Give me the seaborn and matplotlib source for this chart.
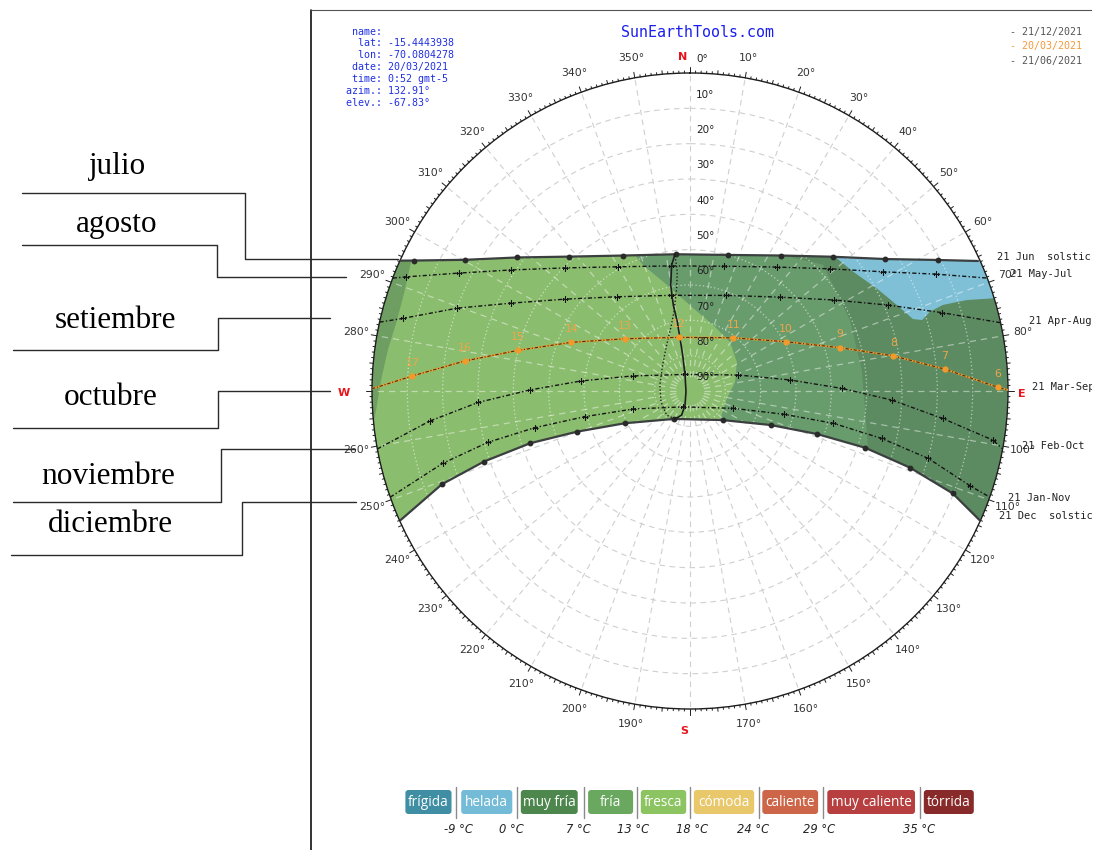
import numpy as np
import pandas as pd
import matplotlib
matplotlib.use("Agg")
import matplotlib.pyplot as plt
from matplotlib.patches import Polygon, Circle, FancyBboxPatch
import seaborn as sns

# ---------------------------------------------------------------------------
# Sun paths, lat -15.4443938 / lon -70.0804278
# azimuth in degrees clockwise from north, elevation in degrees
# ---------------------------------------------------------------------------
jun_az = [294.2, 295.3, 300.3, 307.7, 318.1, 333.6, 354.2, 15.7, 33.9, 46.9, 55.95, 62.2, 65.7]
jun_el = [0.0, 3.6, 16.4, 28.2, 38.9, 47.2, 51.1, 50.0, 43.8, 34.4, 23.3, 10.5, 0.6]

may_az = [290.8, 291.9, 297.0, 304.1, 314.5, 330.0, 351.4, 15.2, 34.96, 48.9, 58.24, 64.6, 69.2]
may_el = [0.0, 3.4, 16.5, 28.9, 40.3, 49.4, 54.2, 53.4, 47.2, 37.4, 25.9, 12.9, 0.0]

apr_az = [282.5, 284.2, 289.6, 296.1, 306.2, 322.1, 348.8, 20.6, 43.8, 57.7, 66.6, 72.7, 77.6]
apr_el = [0.0, 6.2, 20.1, 33.5, 46.0, 56.2, 62.4, 61.1, 53.2, 41.8, 28.8, 15.4, 0.0]

mar_az = [270.4, 273.1, 277.6, 283.3, 292.3, 308.8, 348.4, 39.1, 62.8, 73.9, 80.2, 85.1, 89.3, 89.8]
mar_el = [0.0, 11.3, 25.7, 40.0, 53.7, 66.4, 74.5, 70.6, 59.5, 45.8, 31.6, 17.6, 2.9, 0.0]
mar_hours = [17, 16, 15, 14, 13, 12, 11, 10, 9, 8, 7, 6]

feb_az = [259.5, 263.4, 266.9, 270.4, 275.3, 284.7, 343.1, 71.7, 83.7, 89.0, 92.55, 96.2, 99.2, 100.5]
feb_el = [0.0, 15.8, 29.9, 44.8, 59.1, 73.2, 85.1, 75.6, 61.5, 47.1, 32.9, 18.1, 3.2, 0.0]

jan_az = [250.5, 253.7, 255.75, 256.7, 256.3, 252.4, 203.6, 111.8, 103.9, 102.7, 103.9, 105.8, 108.7, 109.5]
jan_el = [0.0, 17.1, 31.0, 44.8, 59.3, 73.2, 85.1, 76.8, 62.6, 48.4, 34.1, 19.9, 6.3, 0.0]

dec_az = [245.9, 249.4, 251.1, 251.9, 250.2, 243.6, 209.7, 131.6, 112.85, 108.7, 107.95, 109.2, 111.3, 114.1]
dec_el = [0.0, 15.0, 28.4, 42.4, 56.0, 69.5, 80.9, 77.6, 65.2, 52.0, 37.9, 24.1, 10.2, 0.0]

# 12 h analemma (solid and dotted halves)
ana_solid_az = [353.7, 351.7, 349.7, 349.0, 349.6, 349.3, 348.5, 342.6, 260.1, 199.7, 199.1, 208.2]
ana_solid_el = [51.1, 54.0, 59.5, 65.2, 70.1, 74.8, 79.6, 85.3, 88.85, 85.8, 82.8, 81.0]
ana_dot_az = [208.2, 224.2, 249.75, 281.3, 313.6, 333.1, 342.9, 348.6, 352.6, 353.9, 353.7]
ana_dot_el = [81.0, 80.5, 81.25, 81.3, 79.3, 75.4, 71.4, 67.1, 60.7, 56.0, 51.1]

# Temperature zones laid over the yearly sun band (boundaries in az / el)
fria_az = [26.4, 33.5, 46.5, 66.1, 83.0, 108.05, 116.3, 180, 220, 270, 320]
fria_el = [39.1, 43.8, 38.1, 40.5, 41.0, 37.0, 33.2, 50, -10, -10, -10]
fresca_az = [336.5, 337.6, 339.5, 347.8, 2.1, 19.2, 39.2, 58.3, 78.7, 100.7, 134.0, 153.0, 180, 220, 270, 320]
fresca_el = [40.3, 47.7, 51.9, 59.3, 66.5, 70.2, 72.1, 74.4, 77.0, 79.3, 78.2, 74.4, 60, -10, -10, -10]
helada_az = [42.8, 47.9, 53.8, 61.2, 67.4, 72.1, 73.0, 71.7, 71.2, 71.8, 73.0, 75, 55]
helada_el = [31.7, 34.0, 32.8, 29.7, 26.6, 23.7, 21.3, 18.45, 14.4, 7.6, 0.3, -10, -10]
dusk_az = [298.0, 294.8, 289.5, 283.6, 277.7, 272.0, 266.5, 263.9, 263, 300]
dusk_el = [1.9, 3.0, 4.4, 4.7, 3.7, 2.5, 1.0, -0.2, -10, -10]

path_labels = ["21 Jun  solstic", "21 May-Jul", "21 Apr-Aug", "21 Mar-Sep",
               "21 Feb-Oct", "21 Jan-Nov", "21 Dec  solstic"]
info_lines = [" name:", "  lat: -15.4443938", "  lon: -70.0804278", " date: 20/03/2021",
              " time: 0:52 gmt-5", "azim.: 132.91°", "elev.: -67.83°"]
date_keys = ["- 21/12/2021", "- 20/03/2021", "- 21/06/2021"]
months = ["julio", "agosto", "setiembre", "octubre", "noviembre", "diciembre"]

zone_names = ["frígida", "helada", "muy fría", "fría", "fresca", "cómoda",
              "caliente", "muy caliente", "tórrida"]
zone_colors = ["#3f8ea4", "#74bbd7", "#4e874d", "#6aa75f", "#8cc462", "#e9c86c",
               "#cd6648", "#b73f3f", "#872a29"]
zone_limits = ["-9 °C", "0 °C", "7 °C", "13 °C", "18 °C", "24 °C", "29 °C", "35 °C"]

# ---------------------------------------------------------------------------
sns.set_style("white")
plt.rcParams["font.family"] = ["DejaVu Sans"]

W, H = 1110, 850
fig = plt.figure(figsize=(W / 100, H / 100), dpi=100)
fig.patch.set_facecolor("white")

CX, CY, R = 690, 391, 318
ax = fig.add_axes([(CX - R) / W, (H - CY - R) / H, 2 * R / W, 2 * R / H], projection="polar")
ax.set_theta_zero_location("N")
ax.set_theta_direction(-1)
ax.set_autoscale_on(False)
ax.set_xlim(0, 2 * np.pi)
ax.set_ylim(0, 90)
ax.set_thetagrids(np.arange(0, 360, 10))
ax.set_rgrids(np.arange(10, 90, 10))
ax.set_xticklabels([])
ax.set_yticklabels([])
ax.grid(True, color="#cfcfcf", linestyle=(0, (5, 4)), linewidth=0.8)
ax.set_axisbelow(True)
ax.spines["polar"].set_color("#1e1e1e")
ax.spines["polar"].set_linewidth(1.0)
ax.tick_params(length=0)


def th(az):
    return np.radians(np.asarray(az, dtype=float))


def zr(el):
    return 90.0 - np.asarray(el, dtype=float)


# yearly band between June and December paths, closed along the horizon
right_arc = np.linspace(jun_az[-1], dec_az[-1], 13)
left_arc = np.linspace(dec_az[0], jun_az[0], 13)
band_t = np.concatenate([th(jun_az), th(right_arc), th(dec_az[::-1]), th(left_arc)])
band_r = np.concatenate([zr(jun_el), np.full(13, 90.0), zr(dec_el[::-1]), np.full(13, 90.0)])
band = Polygon(np.column_stack([band_t, band_r]), closed=True, fc="#5d8b61", ec="none", zorder=1)
ax.add_patch(band)

zones = [(fria_az, fria_el, "#699c6d", 1.0),
         (fresca_az, fresca_el, "#8bbd6e", 1.0),
         (helada_az, helada_el, "#7fc0d7", 1.0),
         (dusk_az, dusk_el, "#6a9960", 0.85)]
for az, el, col, al in zones:
    p = Polygon(np.column_stack([th(az), zr(el)]), closed=True, fc=col, ec="none",
                alpha=al, zorder=1.1)
    ax.add_patch(p)
    p.set_clip_path(band)

# light grid drawn again over the coloured band
for a in range(0, 360, 10):
    ln, = ax.plot([np.radians(a)] * 2, [4, 90], color="white", lw=0.9,
                  ls=(0, (5, 4)), alpha=0.45, zorder=1.5)
    ln.set_clip_path(band)
for rr_ in range(10, 90, 10):
    c = Circle((0.5, 0.5), rr_ / 180, transform=ax.transAxes, fill=False, ec="white",
               lw=0.9, ls=(0, (1, 2)), alpha=0.55, zorder=1.5)
    ax.add_patch(c)
    c.set_clip_path(band)

# intermediate monthly paths
dashdot = (0, (3, 1.6, 1, 1.6))
for az, el in [(may_az, may_el), (apr_az, apr_el), (feb_az, feb_el), (jan_az, jan_el)]:
    df = pd.DataFrame({"theta": th(az), "r": zr(el)})
    sns.lineplot(data=df, x="theta", y="r", ax=ax, sort=False, estimator=None,
                 color="#151515", lw=1.0, zorder=3)
    ax.lines[-1].set_linestyle(dashdot)
    ax.plot(th(az)[1:-1], zr(el)[1:-1], ls="none", marker="+", ms=4, mew=0.8,
            color="#151515", zorder=3)

# solstice paths (band edges)
for az, el in [(jun_az, jun_el), (dec_az, dec_el)]:
    df = pd.DataFrame({"theta": th(az), "r": zr(el)})
    sns.lineplot(data=df, x="theta", y="r", ax=ax, sort=False, estimator=None,
                 color="#3b3f3f", lw=1.6, zorder=3)
    ax.plot(th(az)[1:-1], zr(el)[1:-1], ls="none", marker="o", ms=3.2,
            color="#2a2a2a", zorder=3)

# equinox path of the selected date
df = pd.DataFrame({"theta": th(mar_az), "r": zr(mar_el)})
sns.lineplot(data=df, x="theta", y="r", ax=ax, sort=False, estimator=None,
             color="#f29a2c", lw=1.3, zorder=4)
ax.plot(th(mar_az), zr(mar_el), color="#151515", lw=0.8, ls=dashdot, alpha=0.8, zorder=4.1)
ax.plot(th(mar_az)[1:-1], zr(mar_el)[1:-1], ls="none", marker="o", ms=3.5,
        color="#f29a2c", zorder=4.2)
for h, a, e in zip(mar_hours, mar_az[1:-1], mar_el[1:-1]):
    ax.annotate(str(h), xy=(np.radians(a), 90 - e), xytext=(0, 9.5),
                textcoords="offset points", ha="center", va="center",
                color="#f0a548", fontsize=7.8, zorder=4.3)

# analemma
ax.plot(th(ana_solid_az), zr(ana_solid_el), color="#1e1e1e", lw=1.2, zorder=3.5)
ax.plot(th(ana_dot_az), zr(ana_dot_el), color="#1e1e1e", lw=1.0, ls=(0, (1, 1.5)), zorder=3.5)

# compass rim ticks
for a in range(360):
    L = 1.6 if a % 10 == 0 else (1.0 if a % 5 == 0 else 0.6)
    ax.plot([np.radians(a)] * 2, [90, 90 + L], color="#1e1e1e", lw=0.7,
            clip_on=False, zorder=5)

# azimuth labels
for a in range(10, 360, 10):
    if a in (90, 180, 270):
        continue
    ax.text(np.radians(a), 95.8, f"{a}°", ha="center", va="center",
            fontsize=7.8, color="#333333", clip_on=False)
for lab, a, r in [("N", 358.8, 94.6), ("E", 90.5, 94.0), ("S", 181.0, 96.2), ("W", 269.7, 97.9)]:
    ax.text(np.radians(a), r, lab, ha="center", va="center", fontsize=8,
            fontweight="bold", color="#e8141c", clip_on=False)

# elevation ring labels
for e in range(0, 100, 10):
    ax.annotate(f"{e}°", xy=(0, 90 - e), xytext=(4.5, 9.8), textcoords="offset points",
                ha="left", va="center", fontsize=7.5, color="#222222", zorder=6)

ax.set_xlabel("")
ax.set_ylabel("")
ax.set_xlim(0, 2 * np.pi)
ax.set_ylim(0, 90)

# ---------------------------------------------------------------------------
# overlay in pixel units for surrounding annotations
ov = fig.add_axes([0, 0, 1092 / W, 1])
ov.set_xlim(0, 1092)
ov.set_ylim(H, 0)
ov.axis("off")
ov.patch.set_visible(False)

# frame of the diagram
ov.plot([311, 311], [10, 850], color="#111111", lw=1.2)
ov.plot([311, 1092], [10, 10], color="#555555", lw=0.8)

mono = "DejaVu Sans Mono"
ov.text(697, 32, "SunEarthTools.com", ha="center", va="center", family=mono,
        fontsize=10.8, color="#1a1ef0")
for i, s in enumerate(info_lines):
    ov.text(346, 31.5 + 11.9 * i, s, ha="left", va="center", family=mono,
            fontsize=7.2, color="#2030e0")
for i, (s, col) in enumerate(zip(date_keys, ["#555555", "#f39a3a", "#555555"])):
    ov.text(1010, 31.5 + 14.8 * i, s, ha="left", va="center", family=mono,
            fontsize=7.2, color=col)

for s, (x, y) in zip(path_labels, [(997, 257.5), (1010, 274), (1029, 321.5), (1032, 387),
                                   (1022, 446), (1008, 498), (999, 516)]):
    ov.text(x, y, s, ha="left", va="center", family=mono, fontsize=7.5,
            color="#222222", clip_on=True)

# month annotations with leader lines
leaders = [[(22, 193), (245, 193), (245, 259), (398, 259)],
           [(22, 245), (217, 245), (217, 277), (346, 277)],
           [(13, 350), (218, 350), (218, 318), (330, 318)],
           [(13, 428), (218, 428), (218, 391), (330, 391)],
           [(13, 502), (221, 502), (221, 449), (355, 449)],
           [(11, 555), (242, 555), (242, 502), (356, 502)]]
for pts in leaders:
    xs, ys = zip(*pts)
    ov.plot(xs, ys, color="#2a2a2a", lw=1.0)
for s, (x, y) in zip(months, [(118, 166), (117, 224), (116, 321), (111, 397),
                              (108, 476), (110, 524)]):
    ov.text(x, y, s, ha="center", va="center", family="Liberation Serif",
            fontsize=22.5, color="black")

# temperature legend
box_x = [(405.4, 451.5), (461.2, 512.3), (520.8, 577.7), (588.1, 633.1), (640.8, 686.2),
         (693.8, 754.2), (762.3, 818.1), (827.3, 915.0), (923.8, 973.8)]
for (x0, x1), name, col in zip(box_x, zone_names, zone_colors):
    ov.add_patch(FancyBboxPatch((x0, 790), x1 - x0, 24,
                                boxstyle="round,pad=0,rounding_size=3",
                                fc=col, ec="none"))
    ov.text((x0 + x1) / 2, 802, name, ha="center", va="center", color="white",
            family="Open Sans", fontsize=9.8)
for xs in [456, 517, 583.5, 637, 690, 758.5, 822.7, 920]:
    ov.plot([xs, xs], [787, 818], color="#8a8a8a", lw=1.0)
for s, x in zip(zone_limits, [458.5, 511, 578.5, 633, 692, 753.5, 819, 919]):
    ov.text(x, 829.5, s, ha="center", va="center", fontsize=8.3, style="italic",
            color="#222222")

fig.savefig("out.png", dpi=100, facecolor="white")
